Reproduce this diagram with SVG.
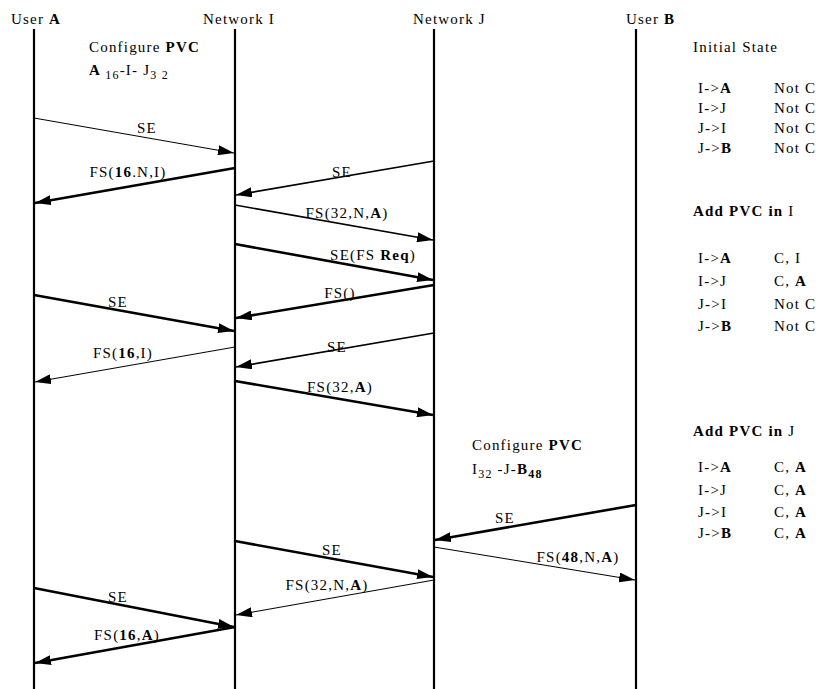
<svg xmlns="http://www.w3.org/2000/svg" width="828" height="689" viewBox="0 0 828 689">
<defs>
<marker id="ah" markerUnits="userSpaceOnUse" markerWidth="16" markerHeight="10" refX="16" refY="5" orient="auto">
<path d="M0,0 L16,5 L0,10 z" fill="#000"/>
</marker>
<style>
text{font-family:"Liberation Serif","Times New Roman",serif;font-size:15px;fill:#000;letter-spacing:1.2px}
.b{font-weight:bold}
.lab{text-anchor:middle}
.life{stroke:#000;stroke-width:2.2;fill:none}
.m{stroke:#000;fill:none;marker-end:url(#ah)}
.t1{stroke-width:1}
.t2{stroke-width:1.6}
.t3{stroke-width:2.6}
.sub{font-size:12px}
</style>
</defs>
<rect width="828" height="689" fill="#fff"/>
<g id="userA"><text x="11" y="24">User <tspan class="b">A</tspan></text><line class="life" x1="34" y1="29" x2="34" y2="689"/></g>
<g id="networkI"><text x="203" y="24">Network I</text><line class="life" x1="235" y1="29" x2="235" y2="689"/></g>
<g id="networkJ"><text x="413" y="24">Network J</text><line class="life" x1="434" y1="29" x2="434" y2="689"/></g>
<g id="userB"><text x="626" y="24">User <tspan class="b">B</tspan></text><line class="life" x1="636" y1="29" x2="636" y2="689"/></g>
<g id="config1"><text x="89" y="52">Configure <tspan class="b">PVC</tspan></text>
<text x="89" y="75"><tspan class="b">A</tspan><tspan class="sub" dy="4"> 16</tspan><tspan dy="-4">-I- J</tspan><tspan class="sub" dy="4">3 2</tspan></text></g>
<g id="config2"><text x="472" y="450">Configure <tspan class="b">PVC</tspan></text>
<text x="472" y="474">I<tspan class="sub" dy="4">32</tspan><tspan dy="-4"> -J-</tspan><tspan class="b">B</tspan><tspan class="sub b" dy="4">48</tspan></text></g>
<g id="state">
<text x="693" y="52">Initial State</text>
<text x="698" y="93">I-&gt;<tspan class="b">A</tspan></text><text x="774" y="93">Not  C</text>
<text x="698" y="113">I-&gt;J</text><text x="774" y="113">Not  C</text>
<text x="698" y="133">J-&gt;I</text><text x="774" y="133">Not  C</text>
<text x="698" y="153">J-&gt;<tspan class="b">B</tspan></text><text x="774" y="153">Not  C</text>
<text x="693" y="216"><tspan class="b">Add PVC in</tspan>  I</text>
<text x="698" y="263">I-&gt;<tspan class="b">A</tspan></text><text x="774" y="263">C, I</text>
<text x="698" y="286">I-&gt;J</text><text x="774" y="286">C, <tspan class="b">A</tspan></text>
<text x="698" y="309">J-&gt;I</text><text x="774" y="309">Not  C</text>
<text x="698" y="331">J-&gt;<tspan class="b">B</tspan></text><text x="774" y="331">Not  C</text>
<text x="693" y="436"><tspan class="b">Add PVC in</tspan>  J</text>
<text x="698" y="472">I-&gt;<tspan class="b">A</tspan></text><text x="774" y="472">C, <tspan class="b">A</tspan></text>
<text x="698" y="495">I-&gt;J</text><text x="774" y="495">C, <tspan class="b">A</tspan></text>
<text x="698" y="517">J-&gt;I</text><text x="774" y="517">C, <tspan class="b">A</tspan></text>
<text x="698" y="538">J-&gt;<tspan class="b">B</tspan></text><text x="774" y="538">C, <tspan class="b">A</tspan></text>
</g>
<g id="connectors">
<line class="m t1" x1="34" y1="118" x2="234" y2="153"/>
<line class="m t3" x1="235" y1="168" x2="35" y2="203"/>
<line class="m t2" x1="434" y1="161" x2="236" y2="195"/>
<line class="m t2" x1="235" y1="205" x2="433" y2="240"/>
<line class="m t3" x1="235" y1="244" x2="433" y2="280"/>
<line class="m t3" x1="434" y1="285" x2="236" y2="318"/>
<line class="m t3" x1="34" y1="295" x2="234" y2="331"/>
<line class="m t1" x1="235" y1="347" x2="35" y2="382"/>
<line class="m t2" x1="434" y1="333" x2="236" y2="367"/>
<line class="m t3" x1="235" y1="381" x2="433" y2="415"/>
<line class="m t3" x1="636" y1="505" x2="435" y2="540"/>
<line class="m t1" x1="434" y1="547" x2="635" y2="580"/>
<line class="m t3" x1="235" y1="541" x2="433" y2="577"/>
<line class="m t1" x1="434" y1="580" x2="236" y2="615"/>
<line class="m t3" x1="34" y1="588" x2="234" y2="627"/>
<line class="m t3" x1="235" y1="627" x2="35" y2="663"/>
</g>
<g id="labels">
<text class="lab" x="147" y="133">SE</text>
<text class="lab" x="128" y="177">FS(<tspan class="b">16</tspan>.N,I)</text>
<text class="lab" x="342" y="177">SE</text>
<text class="lab" x="347" y="218">FS(32,N,<tspan class="b">A</tspan>)</text>
<text class="lab" x="373" y="260">SE(FS <tspan class="b">Req</tspan>)</text>
<text class="lab" x="340" y="298">FS()</text>
<text class="lab" x="118" y="307">SE</text>
<text class="lab" x="123" y="358">FS(<tspan class="b">16</tspan>,I)</text>
<text class="lab" x="337" y="352">SE</text>
<text class="lab" x="340" y="392">FS(32,<tspan class="b">A</tspan>)</text>
<text class="lab" x="505" y="523">SE</text>
<text class="lab" x="578" y="562">FS(<tspan class="b">48</tspan>,N,<tspan class="b">A</tspan>)</text>
<text class="lab" x="332" y="555">SE</text>
<text class="lab" x="327" y="590">FS(32,N,<tspan class="b">A</tspan>)</text>
<text class="lab" x="118" y="602">SE</text>
<text class="lab" x="127" y="640">FS(<tspan class="b">16</tspan>,<tspan class="b">A</tspan>)</text>
</g>
</svg>
